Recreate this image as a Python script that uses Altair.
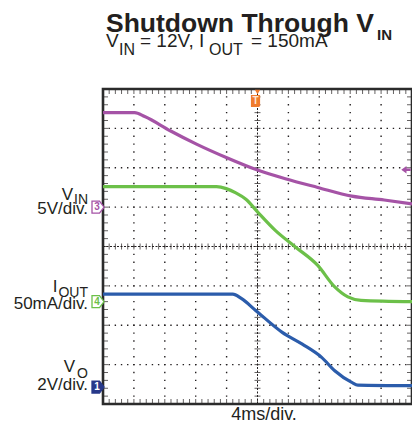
import altair as alt
import pandas as pd

# ---------------- data ----------------
# time in ms (4 ms/div, trigger at t = 0)
vin_t = [-20, -15.9, -14.6, -11.3, -7.9, -4.05, 0, 3.6, 7.8, 12.2, 16.4, 20]
vin_v = [12.0, 12.0, 11.5, 9.7, 8.0, 6.3, 4.7, 3.6, 2.5, 1.4, 0.9, 0.4]          # V

iout_t = [-20, -5.3, -4.05, -2.8, -1.5, 0, 2.3, 4.9, 7.8, 10.0, 11.7, 13.4, 20]
iout_v = [146, 146, 143.5, 138, 130, 114, 90.5, 69.5, 46, 18.7, 6, 1.6, 0]      # mA

vo_t = [-20, -3.2, -2.1, -0.2, 3.2, 5.8, 8.3, 10.0, 12.2, 13.0, 20]
vo_v = [4.72, 4.72, 4.5, 3.88, 2.78, 2.18, 1.51, 0.83, 0.24, 0.1, 0.07]         # V

# scope channel settings
ch_names = ["VIN", "IOUT", "VO"]
ch_num = ["3", "4", "1"]
ch_per_div = [5.0, 50.0, 2.0]          # units per division
ch_ground = [5.0, 2.6, 0.43]           # ground marker, divisions from bottom
ch_color = ["#a553a6", "#6cc049", "#2b5cab"]

trig_time = [0.0]                      # ms
trig_level_vin = [4.75]                # V on channel 3

grid_t = [-20, -16, -12, -8, -4, 0, 4, 8, 12, 16, 20]
grid_d = [0, 1, 2, 3, 4, 5, 6, 7, 8]

title_main = "Shutdown Through V"
title_sub = "IN"
sub_parts = ["V", "IN", "= 12V, I", "OUT", "= 150mA"]
lab_vin = ["V", "IN", "5V/div."]
lab_iout = ["I", "OUT", "50mA/div."]
lab_vo = ["V", "O", "2V/div."]
x_label = "4ms/div."

INK = "#231f20"
FONT = "Liberation Sans"
ORANGE = "#f07b2d"

# ---------------- build tables ----------------
rows = []
for k, (ts, vs) in enumerate([(vin_t, vin_v), (iout_t, iout_v), (vo_t, vo_v)]):
    for t, v in zip(ts, vs):
        rows.append({"ch": ch_names[k], "t": t, "div": ch_ground[k] + v / ch_per_div[k]})
traces = pd.DataFrame(rows)

XS = alt.Scale(domain=[grid_t[0], grid_t[-1]], nice=False, zero=False)
YS = alt.Scale(domain=[grid_d[0], grid_d[-1]], nice=False, zero=False)

W, H = 309, 315


def X(f):
    return alt.X(f, type="quantitative", scale=XS, axis=None)


def Y(f):
    return alt.Y(f, type="quantitative", scale=YS, axis=None)


t0, t1 = grid_t[0], grid_t[-1]
d0, d1 = grid_d[0], grid_d[-1]
tc, dc = grid_t[len(grid_t) // 2], grid_d[len(grid_d) // 2]
px_t = W / ((t1 - t0) / (grid_t[1] - grid_t[0])) / 5   # px per minor step (x)
px_d = H / ((d1 - d0) / (grid_d[1] - grid_d[0])) / 5   # px per minor step (y)

layers = []

# dotted grid
vgrid = pd.DataFrame({"t": [t for t in grid_t if t not in (t0, tc, t1)]})
vgrid["lo"], vgrid["hi"] = d0, d1
layers.append(alt.Chart(vgrid).mark_rule(color=INK, strokeWidth=1.4, strokeDash=[1.4, px_d - 1.4],
                                         strokeDashOffset=0.7)
              .encode(x=X("t"), y=Y("lo"), y2="hi"))
hgrid = pd.DataFrame({"d": [d for d in grid_d if d not in (d0, dc, d1)]})
hgrid["lo"], hgrid["hi"] = t0, t1
layers.append(alt.Chart(hgrid).mark_rule(color=INK, strokeWidth=1.4, strokeDash=[1.4, px_t - 1.4],
                                         strokeDashOffset=0.7)
              .encode(y=Y("d"), x=X("lo"), x2="hi"))

# center crosshair
cv = pd.DataFrame({"t": [tc], "lo": [d0], "hi": [d1]})
layers.append(alt.Chart(cv).mark_rule(color=INK, strokeWidth=1, strokeDash=[2, 1.5])
              .encode(x=X("t"), y=Y("lo"), y2="hi"))
ch_ = pd.DataFrame({"d": [dc], "lo": [t0], "hi": [t1]})
layers.append(alt.Chart(ch_).mark_rule(color=INK, strokeWidth=1, strokeDash=[2, 1.5])
              .encode(y=Y("d"), x=X("lo"), x2="hi"))

step_t = (grid_t[1] - grid_t[0]) / 5
step_d = (grid_d[1] - grid_d[0]) / 5
minor_t = [t0 + step_t * k for k in range(int(round((t1 - t0) / step_t)) + 1)]
minor_d = [d0 + step_d * k for k in range(int(round((d1 - d0) / step_d)) + 1)]

mt = pd.DataFrame({"t": minor_t})
md = pd.DataFrame({"d": minor_d})
mt["dc"], mt["top"], mt["bot"] = dc, d1, d0
md["tc"], md["left"], md["right"] = tc, t0, t1

layers.append(alt.Chart(mt).mark_tick(orient="vertical", size=6, thickness=1, color=INK)
              .encode(x=X("t"), y=Y("dc")))
layers.append(alt.Chart(md).mark_tick(orient="horizontal", size=6, thickness=1, color=INK)
              .encode(y=Y("d"), x=X("tc")))
# border ticks (inside)
layers.append(alt.Chart(mt).mark_tick(orient="vertical", size=5, thickness=1, color=INK, yOffset=2.5)
              .encode(x=X("t"), y=Y("top")))
layers.append(alt.Chart(mt).mark_tick(orient="vertical", size=5, thickness=1, color=INK, yOffset=-2.5)
              .encode(x=X("t"), y=Y("bot")))
layers.append(alt.Chart(md).mark_tick(orient="horizontal", size=5, thickness=1, color=INK, xOffset=2.5)
              .encode(y=Y("d"), x=X("left")))
layers.append(alt.Chart(md).mark_tick(orient="horizontal", size=5, thickness=1, color=INK, xOffset=-2.5)
              .encode(y=Y("d"), x=X("right")))

# border
border = pd.DataFrame({"a": [t0], "b": [t1], "c": [d0], "e": [d1]})
layers.append(alt.Chart(border).mark_rect(fillOpacity=0, stroke="#2b2b2b", strokeWidth=2.6)
              .encode(x=X("a"), x2="b", y=Y("c"), y2="e"))

# traces
layers.append(alt.Chart(traces).mark_line(strokeWidth=3.2, interpolate="monotone", clip=True)
              .encode(x=X("t"), y=Y("div"),
                      color=alt.Color("ch:N", scale=alt.Scale(domain=ch_names, range=ch_color),
                                      legend=None)))

# channel ground markers
PENT = "M -1 -1 L 0.25 -1 L 1 0 L 0.25 1 L -1 1 Z"
for k in range(3):
    mk = pd.DataFrame({"d": [ch_ground[k]], "n": [ch_num[k]]})
    solid = ch_num[k] == "1"
    col = ch_color[k] if not solid else "#27398a"
    layers.append(alt.Chart(mk).mark_point(shape=PENT, size=144, filled=True,
                                           fill=col if solid else "white",
                                           stroke=col, strokeWidth=1.3, opacity=1)
                  .encode(x=alt.value(-5), y=Y("d")))
    layers.append(alt.Chart(mk).mark_text(font=FONT, fontSize=10, fontWeight="bold",
                                          color="white" if solid else col,
                                          align="center", baseline="middle")
                  .encode(x=alt.value(-6), y=Y("d"), text="n:N"))

# trigger position marker
trig = pd.DataFrame({"t": trig_time, "top": [d1], "s": ["T"]})
layers.append(alt.Chart(trig).mark_point(shape="triangle-down", size=28, filled=True, color=ORANGE,
                                         opacity=1, yOffset=3)
              .encode(x=X("t"), y=Y("top")))
BOX = "M -0.75 -1 L 0.75 -1 L 0.75 0.7 Q 0.75 1 0.4 1 L -0.75 1 Z"
layers.append(alt.Chart(trig).mark_point(shape=BOX, size=150, filled=True, color=ORANGE,
                                         opacity=1, xOffset=-2, yOffset=12)
              .encode(x=X("t"), y=Y("top")))
layers.append(alt.Chart(trig).mark_text(font=FONT, fontSize=10, fontWeight="bold", color="#fde6d6",
                                        align="center", baseline="middle", dx=-2, dy=12)
              .encode(x=X("t"), y=Y("top"), text="s:N"))

# trigger level marker (channel 3)
tl = pd.DataFrame({"t": [t1], "d": [ch_ground[0] + trig_level_vin[0] / ch_per_div[0]]})
ARROW = "M -1 0 L 0.1 -0.8 L 0.1 -0.25 L 1 -0.25 L 1 0.25 L 0.1 0.25 L 0.1 0.8 Z"
layers.append(alt.Chart(tl).mark_point(shape=ARROW, size=90, filled=True, color=ch_color[0],
                                       opacity=1, xOffset=-6)
              .encode(x=X("t"), y=Y("d")))


# texts
def label(text, x, y, size, align="left", weight="normal"):
    return (alt.Chart(pd.DataFrame({"s": [text]}))
            .mark_text(font=FONT, fontSize=size, fontWeight=weight, color=INK,
                       align=align, baseline="alphabetic")
            .encode(text="s:N", x=alt.value(x), y=alt.value(y)))


layers += [
    label(title_main, 3, -57, 26.5, weight="bold"),
    label(title_sub, 274, -49, 15, weight="bold"),
    label(sub_parts[0], 3, -42, 19),
    label(sub_parts[1], 16, -34, 16),
    label(sub_parts[2], 37, -42, 19),
    label(sub_parts[3], 106, -34, 16),
    label(sub_parts[4], 148, -42, 19),
    label(lab_vin[0], -30, 111, 17, align="right"),
    label(lab_vin[1], -15, 115, 14, align="right"),
    label(lab_vin[2], -15, 125, 17, align="right"),
    label(lab_iout[0], -45.5, 203, 17, align="right"),
    label(lab_iout[1], -15, 208, 14, align="right"),
    label(lab_iout[2], -15, 220, 17, align="right"),
    label(lab_vo[0], -28, 283, 17, align="right"),
    label(lab_vo[1], -15, 289, 14, align="right"),
    label(lab_vo[2], -15, 301, 17, align="right"),
    label(x_label, 161, 331, 18, align="center"),
]

chart = (alt.layer(*layers)
         .properties(width=W, height=H,
                     autosize=alt.AutoSizeParams(type="none"),
                     padding={"left": 95, "top": 81, "right": 0, "bottom": 20},
                     background="white")
         .configure_view(stroke=None))

chart.save("out.html", embed_options={"renderer": "svg", "actions": False})
